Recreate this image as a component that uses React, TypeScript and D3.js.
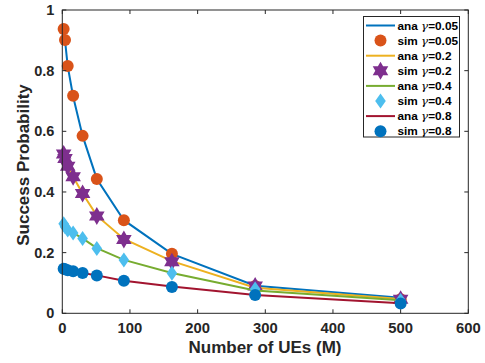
import React from "react";
import * as d3 from "d3";

// Number of UEs (M) at which the curves were evaluated
const ues = [2, 4, 8, 16, 30, 51, 91, 162, 285, 500];

// Analytical success probability per gamma
const ana005 = [0.935, 0.9, 0.815, 0.715, 0.585, 0.443, 0.307, 0.196, 0.091, 0.051];
const ana02 = [0.522, 0.508, 0.483, 0.45, 0.395, 0.322, 0.245, 0.172, 0.084, 0.047];
const ana04 = [0.295, 0.287, 0.277, 0.265, 0.247, 0.215, 0.176, 0.133, 0.075, 0.043];
const ana08 = [0.147, 0.145, 0.142, 0.139, 0.133, 0.125, 0.107, 0.088, 0.06, 0.033];

// Simulated success probability per gamma
const sim005 = [0.937, 0.901, 0.815, 0.717, 0.585, 0.443, 0.307, 0.196, 0.09, 0.046];
const sim02 = [0.525, 0.51, 0.485, 0.45, 0.395, 0.321, 0.243, 0.17, 0.09, 0.046];
const sim04 = [0.295, 0.285, 0.275, 0.265, 0.247, 0.214, 0.176, 0.132, 0.08, 0.042];
const sim08 = [0.147, 0.145, 0.142, 0.139, 0.133, 0.125, 0.107, 0.087, 0.06, 0.032];

const xTicks = [0, 100, 200, 300, 400, 500, 600];
const yTicks = [0, 0.2, 0.4, 0.6, 0.8, 1];
const yTickLabels = ["0", "0.2", "0.4", "0.6", "0.8", "1"];

const gammas = ["0.05", "0.2", "0.4", "0.8"];
const lineColors = ["#0072BD", "#EDB120", "#77AC30", "#A2142F"];
const markerColors = ["#D95319", "#7E2F8E", "#4DBEEE", "#0072BD"];
const markerKinds = ["circle", "hexagram", "diamond", "circle"];
const anaSeries = [ana005, ana02, ana04, ana08];
const simSeries = [sim005, sim02, sim04, sim08];

const W = 485;
const H = 363;
const left = 62.3;
const right = 468.3;
const top = 10;
const bottom = 313.3;

const x = d3.scaleLinear().domain([0, 600]).range([left, right]);
const y = d3.scaleLinear().domain([0, 1]).range([bottom, top]);

const font = "'Liberation Sans', Arial, Helvetica, sans-serif";
const axisColor = "#262626";

function hexagramPath(r: number): string {
  const pts: [number, number][] = [];
  const inner = r / Math.sqrt(3);
  for (let i = 0; i < 12; i++) {
    const a = (Math.PI / 6) * i - Math.PI / 2;
    const rr = i % 2 === 0 ? r : inner;
    pts.push([rr * Math.cos(a), rr * Math.sin(a)]);
  }
  return "M" + pts.map((p) => p[0].toFixed(2) + "," + p[1].toFixed(2)).join("L") + "Z";
}

function Marker({ kind, cx, cy, color }: { kind: string; cx: number; cy: number; color: string }) {
  if (kind === "circle") {
    return <circle cx={cx} cy={cy} r={6} fill={color} />;
  }
  if (kind === "hexagram") {
    return <path d={hexagramPath(9)} transform={`translate(${cx},${cy})`} fill={color} />;
  }
  return (
    <path
      d="M0,-7.5L5.3,0L0,7.5L-5.3,0Z"
      transform={`translate(${cx},${cy})`}
      fill={color}
    />
  );
}

export default function App() {
  const line = d3
    .line<[number, number]>()
    .x((d) => x(d[0]))
    .y((d) => y(d[1]));

  const legendLeft = 363.5;
  const legendTop = 16.5;
  const legendRight = 459.5;
  const legendBottom = 137;
  const rowStep = 15.1;
  const firstRow = 25.5;

  const legendRows: { label: string; gamma: string; type: "line" | "marker"; idx: number }[] = [];
  gammas.forEach((g, i) => {
    legendRows.push({ label: "ana ", gamma: g, type: "line", idx: i });
    legendRows.push({ label: "sim ", gamma: g, type: "marker", idx: i });
  });

  return (
    <svg
      width={W}
      height={H}
      style={{ position: "absolute", left: 0, top: 0, background: "#fff" }}
      fontFamily={font}
    >
      <rect x={0} y={0} width={W} height={H} fill="#fff" />

      {/* series: each analytic curve followed by its simulated markers */}
      {gammas.map((g, i) => (
        <g key={g}>
          <path
            d={line(ues.map((m, k) => [m, anaSeries[i][k]] as [number, number])) || ""}
            fill="none"
            stroke={lineColors[i]}
            strokeWidth={2}
          />
          {ues.map((m, k) => (
            <Marker
              key={k}
              kind={markerKinds[i]}
              cx={x(m)}
              cy={y(simSeries[i][k])}
              color={markerColors[i]}
            />
          ))}
        </g>
      ))}

      {/* axes box */}
      <rect
        x={left}
        y={top}
        width={right - left}
        height={bottom - top}
        fill="none"
        stroke={axisColor}
        strokeWidth={1}
      />

      {/* x ticks */}
      {xTicks.map((t) => (
        <g key={"x" + t}>
          <line x1={x(t)} x2={x(t)} y1={bottom} y2={bottom - 4} stroke={axisColor} />
          <line x1={x(t)} x2={x(t)} y1={top} y2={top + 4} stroke={axisColor} />
          <text
            x={x(t)}
            y={bottom + 19.5}
            textAnchor="middle"
            fontSize={14.8}
            fontWeight="bold"
            fill={axisColor}
          >
            {t}
          </text>
        </g>
      ))}

      {/* y ticks */}
      {yTicks.map((t, i) => (
        <g key={"y" + t}>
          <line x1={left} x2={left + 4} y1={y(t)} y2={y(t)} stroke={axisColor} />
          <line x1={right} x2={right - 4} y1={y(t)} y2={y(t)} stroke={axisColor} />
          <text
            x={left - 8}
            y={y(t) + 5}
            textAnchor="end"
            fontSize={14.5}
            fontWeight="bold"
            fill={axisColor}
          >
            {yTickLabels[i]}
          </text>
        </g>
      ))}

      {/* axis titles */}
      <text
        x={265}
        y={353}
        textAnchor="middle"
        fontSize={17}
        fontWeight="bold"
        fill={axisColor}
      >
        Number of UEs (M)
      </text>
      <text
        transform={`translate(28.5,165) rotate(-90)`}
        textAnchor="middle"
        fontSize={17}
        fontWeight="bold"
        fill={axisColor}
      >
        Success Probability
      </text>

      {/* legend */}
      <rect
        x={legendLeft}
        y={legendTop}
        width={legendRight - legendLeft}
        height={legendBottom - legendTop}
        fill="#fff"
        stroke={axisColor}
        strokeWidth={1}
      />
      {legendRows.map((row, r) => {
        const cy = firstRow + r * rowStep;
        return (
          <g key={r}>
            {row.type === "line" ? (
              <line
                x1={366}
                x2={395}
                y1={cy}
                y2={cy}
                stroke={lineColors[row.idx]}
                strokeWidth={2}
              />
            ) : (
              <Marker
                kind={markerKinds[row.idx]}
                cx={380.5}
                cy={cy}
                color={markerColors[row.idx]}
              />
            )}
            <text x={397.5} y={cy + 4} fontSize={11.8} fontWeight="bold" fill="#000">
              {row.label}
              <tspan fontFamily="'DejaVu Serif', serif" fontStyle="italic" fontWeight="normal">
                γ
              </tspan>
              {"=" + row.gamma}
            </text>
          </g>
        );
      })}
    </svg>
  );
}
